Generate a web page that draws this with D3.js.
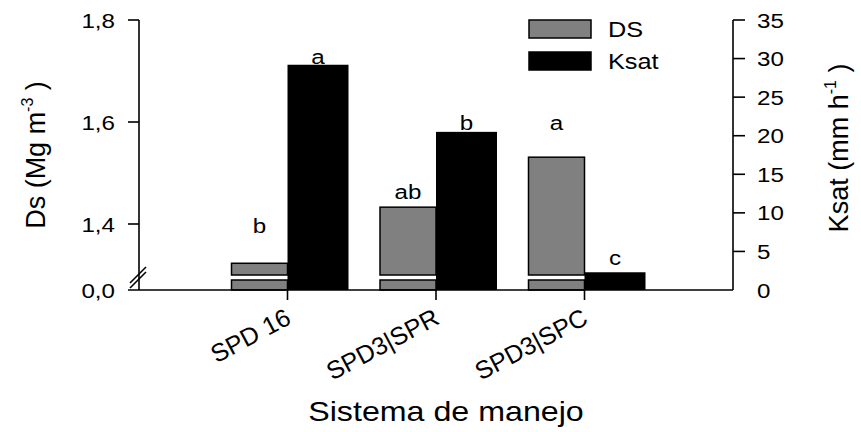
<!DOCTYPE html>
<html><head><meta charset="utf-8">
<script src="https://cdn.jsdelivr.net/npm/d3@7"></script>
<style>
body{margin:0;background:#fff}
text{font-family:"Liberation Sans",Arial,Helvetica,sans-serif;fill:#000}
</style>
</head><body>
<svg id="c" width="861" height="432"></svg>
<script>
// ---- data ----
const categories = ["SPD 16", "SPD3|SPR", "SPD3|SPC"];
const dsValues = [1.323, 1.433, 1.531];
const ksatValues = [29.2, 20.5, 2.3];
const dsLetters = ["b", "ab", "a"];
const ksatLetters = ["a", "b", "c"];
const dsLetterAt = [1.382, 1.449, 1.584];
const ksatLetterAt = [29.3, 20.7, 3.3];
const dsTicksUpper = [1.4, 1.6, 1.8];
const dsTicksLower = [0];
const ksatTicks = [0, 5, 10, 15, 20, 25, 30, 35];
const legendLabels = ["DS", "Ksat"];

// ---- layout ----
const svg = d3.select("#c");
const X0 = 139, X1 = 733, YB = 290, YT = 20;
const SX = 1.15; // horizontal stretch of text
const LW = 1.6;

const x = d3.scalePoint().domain(categories).range([X0, X1]).padding(1);
const yUp = d3.scaleLinear().domain([1.3, 1.8]).range([275, YT]);
const yLow = d3.scaleLinear().domain([0, 1.3]).range([YB, 280]);
const yK = d3.scaleLinear().domain([0, 35]).range([YB, YT]);

const fmtDs = d => d.toFixed(1).replace(".", ",");

function stext(px, py, str, size, anchor, sx) {
  return svg.append("text")
    .attr("transform", `translate(${px},${py}) scale(${sx || SX},1)`)
    .attr("text-anchor", anchor || "middle")
    .style("font-size", size + "px")
    .text(str);
}

const grayW = 56, blackW = 61;
categories.forEach((c, i) => {
  const cx = x(c);
  const v = dsValues[i];
  svg.append("rect")
    .attr("x", cx - grayW).attr("width", grayW)
    .attr("y", yLow(Math.min(v, 1.3))).attr("height", yLow(0) - yLow(Math.min(v, 1.3)))
    .attr("fill", "#808080").attr("stroke", "#000").attr("stroke-width", 1.5);
  if (v > 1.3) {
    svg.append("rect")
      .attr("x", cx - grayW).attr("width", grayW)
      .attr("y", yUp(v)).attr("height", yUp(1.3) - yUp(v))
      .attr("fill", "#808080").attr("stroke", "#000").attr("stroke-width", 1.5);
  }
  svg.append("rect")
    .attr("x", cx).attr("width", blackW)
    .attr("y", yK(ksatValues[i])).attr("height", yK(0) - yK(ksatValues[i]))
    .attr("fill", "#000");
  stext(cx - grayW / 2, yUp(dsLetterAt[i]), dsLetters[i], 21, "middle");
  stext(cx + blackW / 2, yK(ksatLetterAt[i]), ksatLetters[i], 21, "middle");
});

// ---- axes ----
const axis = svg.append("g").attr("stroke", "#000").attr("stroke-width", LW).attr("fill", "none");
axis.append("line").attr("x1", X0).attr("x2", X0).attr("y1", YT).attr("y2", YB);
axis.append("line").attr("x1", X1).attr("x2", X1).attr("y1", YT).attr("y2", YB);
axis.append("line").attr("x1", X0 - 11).attr("x2", X1).attr("y1", YB).attr("y2", YB);

dsTicksUpper.forEach(t => {
  axis.append("line").attr("x1", X0 - 11).attr("x2", X0).attr("y1", yUp(t)).attr("y2", yUp(t));
  stext(X0 - 24, yUp(t) + 7.5, fmtDs(t), 21, "end");
});
dsTicksLower.forEach(t => {
  stext(X0 - 24, yLow(t) + 7.5, fmtDs(t), 21, "end");
});
const bc = (yUp(1.3) + yLow(1.3)) / 2;
[-2.5, 2.5].forEach(o => {
  axis.append("line")
    .attr("x1", X0 - 9).attr("y1", bc + o + 8)
    .attr("x2", X0 + 7).attr("y2", bc + o - 8);
});

ksatTicks.forEach(t => {
  if (t > 0) axis.append("line").attr("x1", X1).attr("x2", X1 + 12).attr("y1", yK(t)).attr("y2", yK(t));
  stext(X1 + 24, yK(t) + 7.5, String(t), 21, "start");
});

categories.forEach(c => {
  axis.append("line").attr("x1", x(c)).attr("x2", x(c)).attr("y1", YB).attr("y2", YB + 10);
  svg.append("text")
    .attr("transform", `translate(${x(c) + 5},${YB + 33}) rotate(-28)`)
    .attr("text-anchor", "end")
    .style("font-size", "25px")
    .text(c);
});

stext(446, 421, "Sistema de manejo", 28.5, "middle", 1.13);

const lt = svg.append("text")
  .attr("transform", "translate(45,155) rotate(-90)")
  .attr("text-anchor", "middle").style("font-size", "27px");
lt.append("tspan").text("Ds (Mg m");
lt.append("tspan").attr("dy", -12).style("font-size", "16px").text("-3");
lt.append("tspan").attr("dy", 12).text(" )");

const rt = svg.append("text")
  .attr("transform", "translate(848,148) rotate(-90)")
  .attr("text-anchor", "middle").style("font-size", "27px");
rt.append("tspan").text("Ksat (mm h");
rt.append("tspan").attr("dy", -12).style("font-size", "16px").text("-1");
rt.append("tspan").attr("dy", 12).text(" )");

const legFill = ["#808080", "#000"];
legendLabels.forEach((l, i) => {
  const ly = 20 + i * 32;
  svg.append("rect").attr("x", 529).attr("y", ly).attr("width", 62).attr("height", 18)
    .attr("fill", legFill[i]).attr("stroke", "#000").attr("stroke-width", 1.5);
  stext(608, ly + 17, l, 22, "start");
});
</script>
</body></html>
